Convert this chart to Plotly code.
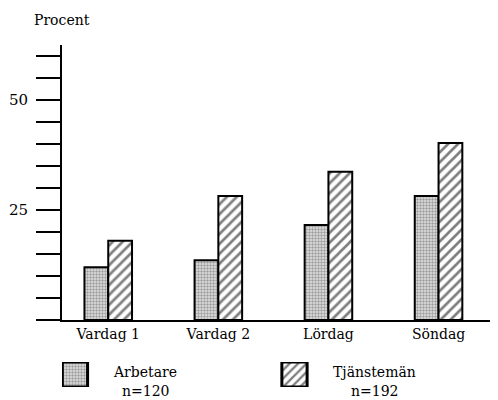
import plotly.graph_objects as go

categories = ["Vardag 1", "Vardag 2", "Lördag", "Söndag"]
arbetare = [12.0, 13.6, 21.6, 28.2]
tjanstemen = [18.0, 28.2, 33.7, 40.2]
series_names = ["Arbetare", "Tjänstemän"]
series_n = [120, 192]
y_tickvals = list(range(0, 61, 5))
y_ticktext = ["" if v not in (25, 50) else str(v) for v in y_tickvals]

FONT = "DejaVu Serif"
OFF = 8  # page body margin offset

dots = dict(shape=".", size=3, solidity=0.5, fgcolor="#555555", bgcolor="#e4e4e4")
hatch = dict(shape="/", size=7, solidity=0.38, fgcolor="black", bgcolor="white")

fig = go.Figure()

fig.add_trace(go.Bar(
    x=categories, y=arbetare, name=series_names[0],
    marker=dict(color="#e6e6e6", line=dict(color="black", width=2), pattern=dots),
    xaxis="x", yaxis="y", showlegend=False,
))
fig.add_trace(go.Bar(
    x=categories, y=tjanstemen, name=series_names[1],
    marker=dict(color="white", line=dict(color="black", width=2), pattern=hatch),
    xaxis="x", yaxis="y", showlegend=False,
))

# legend swatches on an auxiliary axis
fig.add_trace(go.Bar(
    x=[series_names[0]], y=[1], width=0.115,
    marker=dict(color="#e6e6e6", line=dict(color="black", width=3), pattern=dots),
    xaxis="x2", yaxis="y2", showlegend=False, hoverinfo="skip",
))
fig.add_trace(go.Bar(
    x=[series_names[1]], y=[1], width=0.115,
    marker=dict(color="white", line=dict(color="black", width=3),
                pattern=dict(shape="/", size=6, solidity=0.38, fgcolor="black", bgcolor="white")),
    xaxis="x2", yaxis="y2", showlegend=False, hoverinfo="skip",
))

W, Hfig = 498, 400 - OFF
PW = W - (62 - OFF)  # plot width in pixels
top_px, bot_px = 45, 387   # screen pixels of plot area
H = bot_px - top_px
main_bottom = (bot_px - 320) / H
sc = PW / 436.0
x_range = [-0.42, -0.42 + 3.96 * sc]
x2_range = [-0.059, -0.059 + 1.986 * sc]

fig.update_layout(
    width=W, height=Hfig,
    margin=dict(l=62 - OFF, r=0, t=top_px - OFF, b=Hfig - (bot_px - OFF)),
    paper_bgcolor="white", plot_bgcolor="white",
    barmode="group", bargap=1 - 0.44 / sc, bargroupgap=0,
    font=dict(family=FONT, size=14, color="black"),
    xaxis=dict(domain=[0, 1], anchor="y", type="category", range=x_range,
               showline=True, linecolor="black", linewidth=2, ticks="",
               showgrid=False, zeroline=False, tickfont=dict(family=FONT, size=14)),
    yaxis=dict(domain=[main_bottom, 1], anchor="x", range=[0, 62.5],
               tickvals=y_tickvals, ticktext=y_ticktext,
               ticks="outside", ticklen=24, tickwidth=2, tickcolor="black",
               ticklabelstandoff=5,
               showline=True, linecolor="black", linewidth=2,
               showgrid=False, zeroline=False, tickfont=dict(family=FONT, size=15)),
    xaxis2=dict(domain=[0, 1], anchor="y2", type="category", range=x2_range,
                visible=False),
    yaxis2=dict(domain=[0, 25 / H], anchor="x2", range=[0, 1], visible=False),
)

fig.add_annotation(text="Procent", xref="paper", yref="paper",
                   x=(32 - 62) / PW, y=(bot_px - 20) / H, xanchor="left", yanchor="middle",
                   showarrow=False, font=dict(family=FONT, size=14))

label_x = [145, 374]
for name, n, px in zip(series_names, series_n, label_x):
    fig.add_annotation(text=name, xref="paper", yref="paper",
                       x=(px - 62) / PW, y=(bot_px - 372) / H, xanchor="center", yanchor="middle",
                       showarrow=False, font=dict(family=FONT, size=14))
    fig.add_annotation(text=f"n={n}", xref="paper", yref="paper",
                       x=(px - 62) / PW, y=(bot_px - 391) / H, xanchor="center", yanchor="middle",
                       showarrow=False, font=dict(family=FONT, size=14))

fig.write_html("out.html")
